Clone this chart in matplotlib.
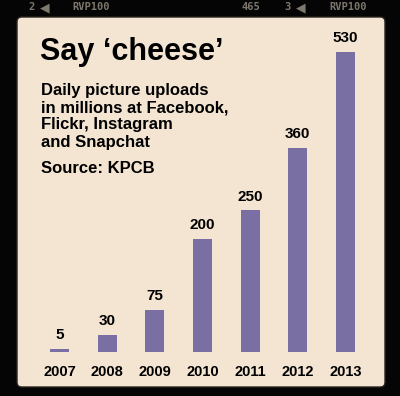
import numpy as np
import matplotlib.pyplot as plt
from matplotlib.patches import FancyBboxPatch

years = ['2007', '2008', '2009', '2010', '2011', '2012', '2013']
uploads = [5, 30, 75, 200, 250, 360, 530]  # millions per day

bar_color = '#7a6fa3'
panel_color = '#f4e5d2'

fig = plt.figure(figsize=(4.0, 3.96), dpi=100)
fig.patch.set_facecolor('#050505')

# beige card on the black film frame
W, H = 400.0, 396.0
panel = FancyBboxPatch((17 / W, 1 - 387 / H), (385 - 17) / W, (387 - 17) / H,
                       boxstyle='round,pad=0,rounding_size=0.012',
                       transform=fig.transFigure, facecolor=panel_color,
                       edgecolor='#2a2520', linewidth=1.0, zorder=-5)
fig.patches.append(panel)

# film strip markings
strip = dict(color='#7d776c', fontsize=7.5, fontweight='bold', va='center',
             family='DejaVu Sans Mono')
fig.text(28 / W, 1 - 7 / H, '2', **strip)
fig.text(40 / W, 1 - 7.5 / H, '◀', color='#7d776c', fontsize=9, va='center')
fig.text(72 / W, 1 - 7 / H, 'RVP100', **strip)
fig.text(241 / W, 1 - 7 / H, '465', **strip)
fig.text(284 / W, 1 - 7 / H, '3', **strip)
fig.text(296 / W, 1 - 7.5 / H, '◀', color='#7d776c', fontsize=9, va='center')
fig.text(329 / W, 1 - 7 / H, 'RVP100', **strip)

# bars: x pixel 59.5 -> 345.5, baseline y=352, 530 at y=52
ax = fig.add_axes([(59.5 - 23.85) / W, 1 - 352 / H,
                   (345.5 - 59.5 + 47.7) / W, 300 / H])
ax.set_facecolor('none')
x = np.arange(len(years))
ax.bar(x, uploads, width=0.4, color=bar_color)
ax.set_xlim(-0.5, len(years) - 0.5)
ax.set_ylim(0, 530)
for s in ax.spines.values():
    s.set_visible(False)
ax.set_yticks([])
ax.set_xticks(x)
ax.set_xticklabels(years, fontsize=10.5, fontweight='bold', family='Liberation Sans')
ax.tick_params(axis='x', length=0, pad=9)
for xi, v in zip(x, uploads):
    ax.annotate(str(v), (xi, v), xytext=(0, 5), textcoords='offset points',
                ha='center', va='bottom', fontsize=11, fontweight='bold',
                family='Liberation Sans')

# title block
fig.text(40 / W, 1 - 52 / H, 'Say \u2018cheese\u2019', fontsize=22,
         fontweight='bold', family='Liberation Sans', va='center')
sub = ['Daily picture uploads', 'in millions at Facebook,',
       'Flickr, Instagram', 'and Snapchat']
for i, line in enumerate(sub):
    fig.text(41 / W, 1 - (91 + 17 * i) / H, line, fontsize=12,
             fontweight='bold', family='Liberation Sans', va='center')
fig.text(41 / W, 1 - 168 / H, 'Source: KPCB', fontsize=12,
         fontweight='bold', family='Liberation Sans', va='center')

fig.savefig('out.png', dpi=100, facecolor=fig.get_facecolor())
